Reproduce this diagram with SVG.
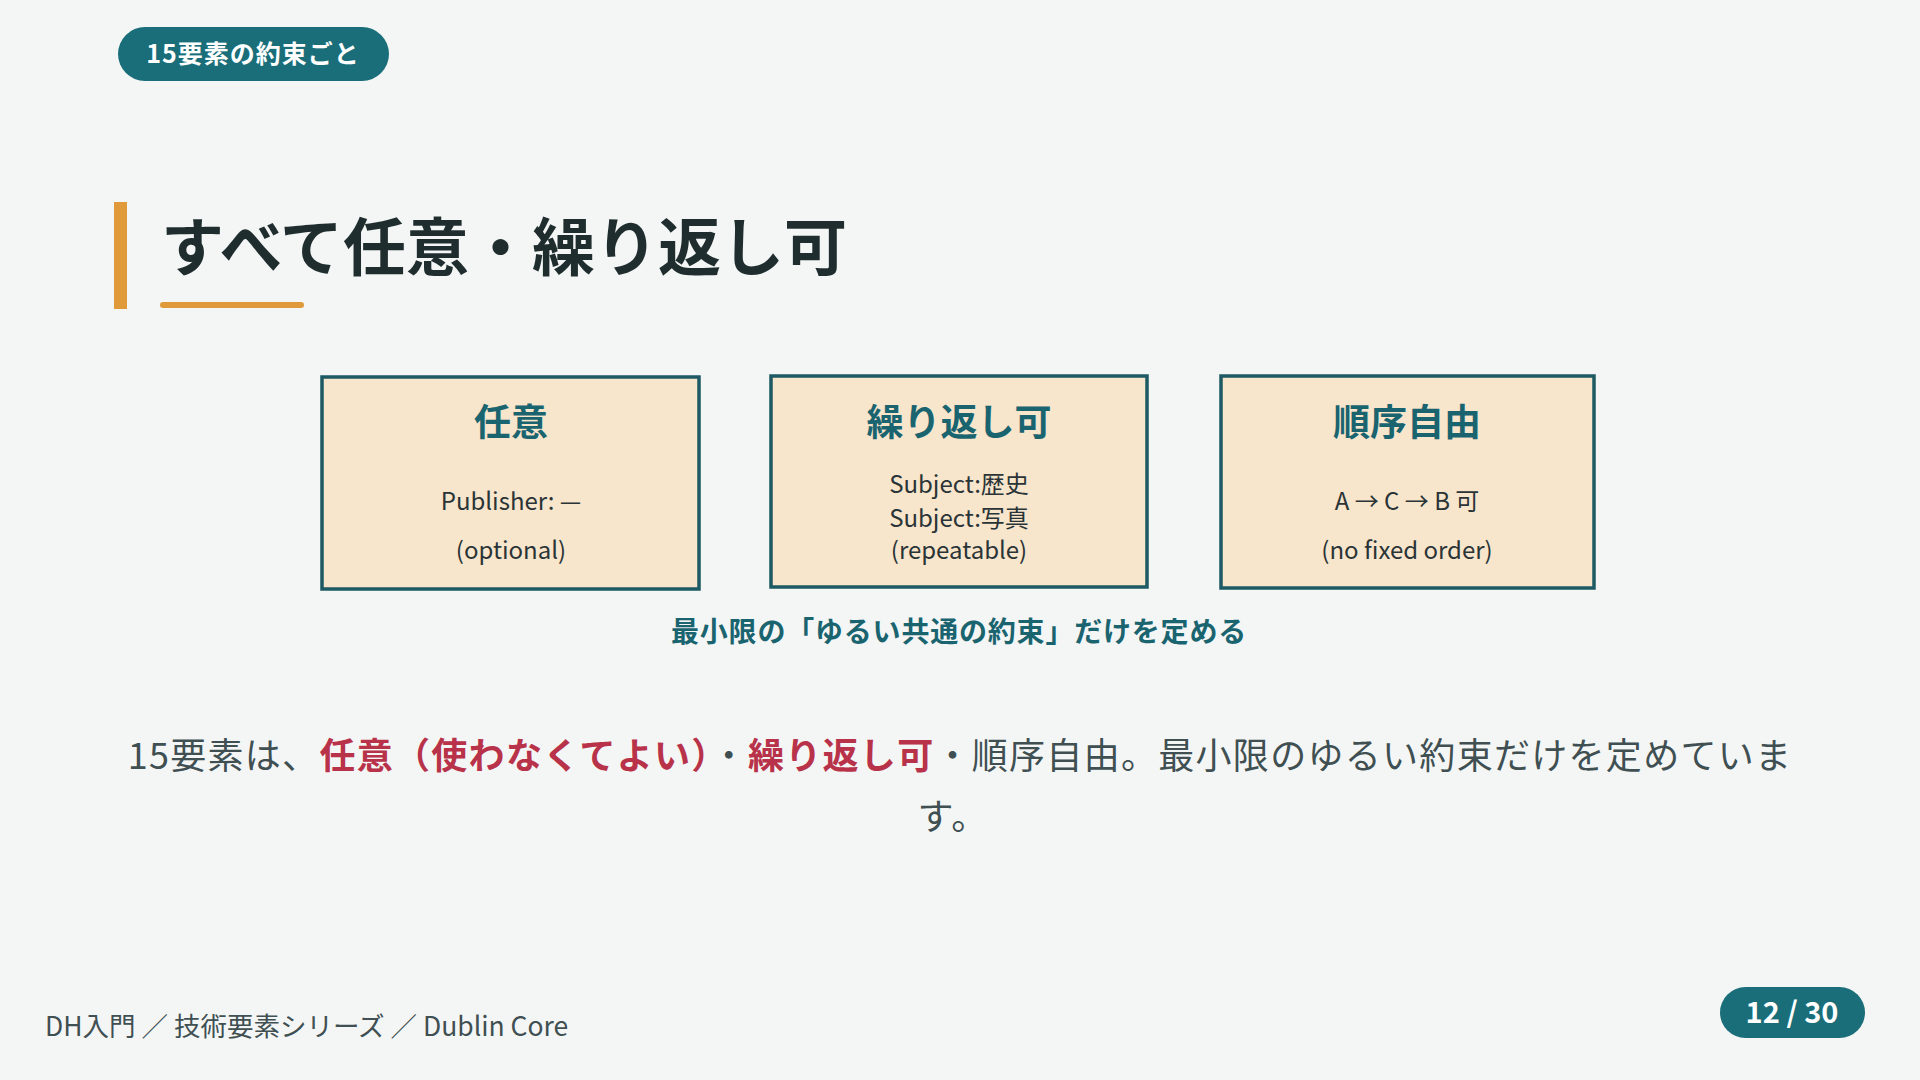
<svg xmlns="http://www.w3.org/2000/svg" width="1920" height="1080" viewBox="0 0 1920 1080">
<style>
text{font-family:"Noto Sans CJK JP","Noto Sans",sans-serif}
.box{fill:#f7e5cc;stroke:#1d5a63;stroke-width:3.5}
.bt{font-size:37px;font-weight:700;fill:#1a6470;text-anchor:middle}
.bd{font-size:24px;fill:#2a3436;text-anchor:middle}
.p{font-size:36px;fill:#3f4f52;letter-spacing:1.3px}
.r{fill:#b8324a;font-weight:700}
</style>
<rect width="1920" height="1080" fill="#f4f6f5"/>
<g id="tag"><rect x="118" y="27" width="271" height="54" rx="27" fill="#1a6e7a"/>
<text x="253" y="63" font-size="25" font-weight="700" fill="#fff" text-anchor="middle" letter-spacing="1">15要素の約束ごと</text></g>
<g id="title"><rect x="114" y="202" width="13" height="107" fill="#e09a3a"/>
<text x="161" y="270" font-size="63" font-weight="700" fill="#1f2d2f">すべて任意・繰り返し可</text>
<rect x="160" y="302" width="144" height="6" rx="3" fill="#e09a3a"/></g>
<g id="n1"><rect class="box" x="322" y="377" width="377" height="212"/>
<text class="bt" x="511" y="436">任意</text>
<text class="bd" x="511" y="510">Publisher: —</text>
<text class="bd" x="511" y="559">(optional)</text></g>
<g id="n2"><rect class="box" x="771" y="376" width="376" height="211"/>
<text class="bt" x="959" y="436">繰り返し可</text>
<text class="bd" x="959" y="493">Subject:歴史</text>
<text class="bd" x="959" y="527">Subject:写真</text>
<text class="bd" x="959" y="559">(repeatable)</text></g>
<g id="n3"><rect class="box" x="1221" y="376" width="373" height="212"/>
<text class="bt" x="1407" y="436">順序自由</text>
<text class="bd" x="1407" y="510">A → C → B 可</text>
<text class="bd" x="1407" y="559">(no fixed order)</text></g>
<g id="connectors"/>
<text x="959" y="642" font-size="28" font-weight="700" fill="#1a6470" text-anchor="middle" letter-spacing="0.8">最小限の「ゆるい共通の約束」だけを定める</text>
<text class="p" x="960" y="769" text-anchor="middle">15要素は、<tspan class="r">任意（使わなくてよい）</tspan>・<tspan class="r">繰り返し可</tspan>・順序自由。最小限のゆるい約束だけを定めていま</text>
<text class="p" x="953" y="830" text-anchor="middle">す。</text>
<text x="45" y="1036" font-size="26.5" fill="#3f4f52">DH入門 ／ 技術要素シリーズ ／ Dublin Core</text>
<g id="page"><rect x="1720" y="987" width="145" height="51" rx="25.5" fill="#1a6e7a"/>
<text x="1792" y="1023" font-size="29" font-weight="700" fill="#fff" text-anchor="middle">12 / 30</text></g>
</svg>
